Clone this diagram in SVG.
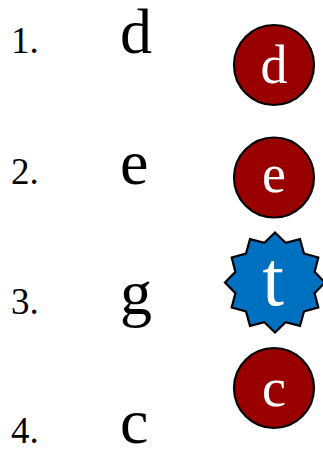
<svg xmlns="http://www.w3.org/2000/svg" width="323" height="449" viewBox="0 0 323 449">
<style>
text{font-family:"Liberation Serif","DejaVu Serif",serif;fill:#000}
.num{font-size:37px}
.big{font-size:64px}
.nd circle{fill:#990000;stroke:#000;stroke-width:2.2}
.nd text{fill:#fff;font-size:54px;text-anchor:middle}
.star polygon{fill:#0070C0;stroke:#000;stroke-width:2.2;stroke-linejoin:miter}
.star text{fill:#fff;font-size:78px;text-anchor:middle}
</style>
<g id="labels">
<text class="num" x="11" y="53">1.</text>
<text class="num" x="11" y="184">2.</text>
<text class="num" x="11" y="314">3.</text>
<text class="num" x="11" y="443">4.</text>
</g>
<g id="letters">
<text class="big" x="120" y="53">d</text>
<text class="big" x="120" y="184">e</text>
<text class="big" x="120" y="314">g</text>
<text class="big" x="120" y="443">c</text>
</g>
<g id="node-d" class="nd"><circle cx="274" cy="65" r="40"/><text x="274" y="83">d</text></g>
<g id="node-e" class="nd"><circle cx="274" cy="177.5" r="40"/><text x="274" y="192">e</text></g>
<g id="node-t" class="star"><polygon points="275,232.5 285.61,242.9 300,239.2 303.99,253.51 318.3,257.5 314.6,271.89 325,282.5 314.6,293.11 318.3,307.5 303.99,311.49 300,325.8 285.61,322.1 275,332.5 264.39,322.1 250,325.8 246.01,311.49 231.7,307.5 235.4,293.11 225,282.5 235.4,271.89 231.7,257.5 246.01,253.51 250,239.2 264.39,242.9"/><text x="273" y="305">t</text></g>
<g id="node-c" class="nd"><circle cx="274" cy="388" r="40"/><text x="274" y="406">c</text></g>
</svg>
